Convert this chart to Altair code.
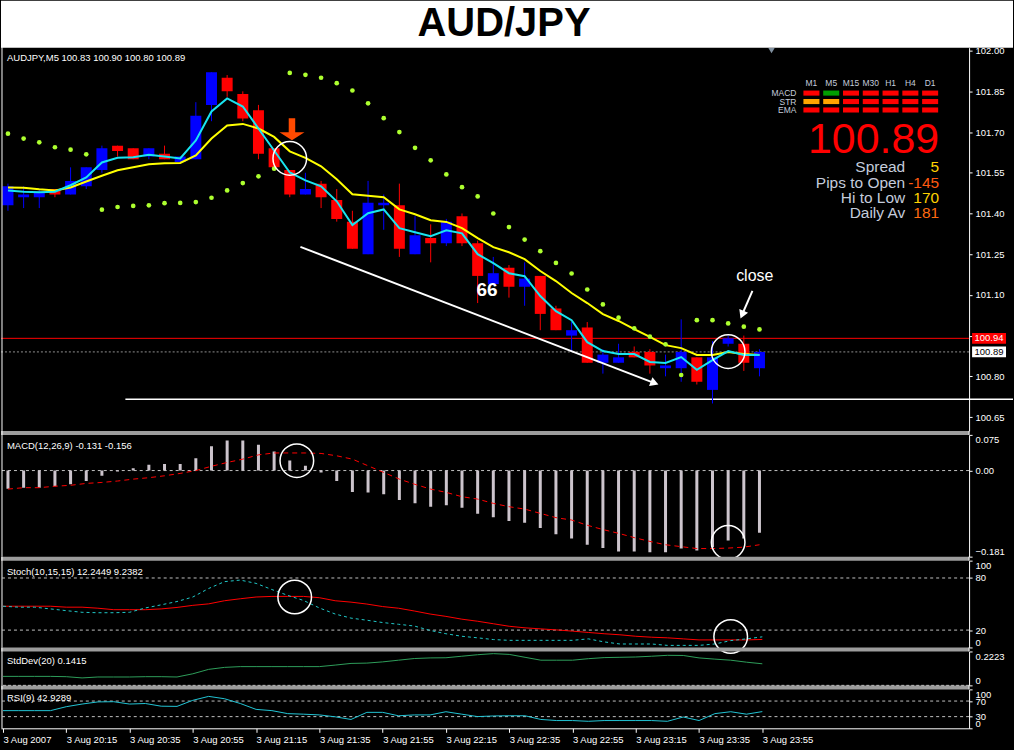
import altair as alt
import pandas as pd

FONT = "Liberation Sans"
TXT = 9.5
BLUE = "#0000FF"
RED = "#FF0000"

# ---- AUD/JPY M5 bars, 3 Aug 2007 19:55 .. 23:55 ----
open_ = [101.43, 101.46, 101.46, 101.49, 101.47, 101.50, 101.56, 101.65, 101.64, 101.61,
         101.62, 101.59, 101.60, 101.80, 101.90, 101.84, 101.78, 101.64, 101.56, 101.47,
         101.51, 101.45, 101.37, 101.25, 101.43, 101.43, 101.25, 101.31, 101.29, 101.39,
         101.29, 101.14, 101.20, 101.13, 101.17, 101.05, 100.95, 100.98, 100.85, 100.85,
         100.89, 100.89, 100.83, 100.83, 100.87, 100.75, 100.92, 100.92, 100.83]
high = [101.51, 101.50, 101.49, 101.49, 101.57, 101.57, 101.65, 101.65, 101.64, 101.64,
        101.65, 101.61, 101.81, 101.92, 101.91, 101.85, 101.80, 101.64, 101.56, 101.55,
        101.52, 101.49, 101.41, 101.52, 101.47, 101.51, 101.39, 101.36, 101.38, 101.40,
        101.30, 101.24, 101.21, 101.22, 101.17, 101.06, 101.00, 101.00, 100.90, 100.92,
        100.91, 100.90, 100.88, 101.01, 100.87, 100.93, 100.95, 100.95, 100.90]
low = [101.41, 101.42, 101.42, 101.46, 101.47, 101.49, 101.55, 101.61, 101.60, 101.60,
       101.60, 101.59, 101.60, 101.74, 101.83, 101.74, 101.60, 101.56, 101.46, 101.47,
       101.42, 101.37, 101.27, 101.25, 101.34, 101.24, 101.25, 101.22, 101.28, 101.28,
       101.07, 101.14, 101.09, 101.06, 100.97, 100.97, 100.89, 100.85, 100.81, 100.85,
       100.87, 100.81, 100.80, 100.78, 100.77, 100.70, 100.91, 100.82, 100.80]
close = [101.50, 101.47, 101.48, 101.47, 101.52, 101.57, 101.64, 101.63, 101.60, 101.64,
         101.60, 101.61, 101.76, 101.92, 101.85, 101.75, 101.62, 101.57, 101.47, 101.49,
         101.46, 101.38, 101.27, 101.44, 101.44, 101.27, 101.32, 101.29, 101.37, 101.29,
         101.17, 101.18, 101.13, 101.16, 101.03, 100.97, 100.97, 100.85, 100.88, 100.87,
         100.87, 100.84, 100.84, 100.89, 100.78, 100.87, 100.94, 100.85, 100.89]

ma_fast = [101.485, 101.480, 101.478, 101.480, 101.504, 101.533, 101.588, 101.605, 101.607, 101.616,
           101.610, 101.603, 101.669, 101.776, 101.824, 101.794, 101.713, 101.632, 101.551, 101.522,
           101.500, 101.445, 101.357, 101.401, 101.415, 101.346, 101.331, 101.316, 101.338, 101.327,
           101.250, 101.217, 101.180, 101.169, 101.096, 101.040, 101.007, 100.926, 100.893, 100.882,
           100.882, 100.853, 100.849, 100.871, 100.824, 100.860, 100.893, 100.879, 100.879]
ma_slow = [101.496, 101.495, 101.489, 101.485, 101.496, 101.518, 101.539, 101.559, 101.570, 101.581,
           101.585, 101.586, 101.614, 101.676, 101.724, 101.730, 101.713, 101.682, 101.629, 101.605,
           101.574, 101.526, 101.471, 101.465, 101.460, 101.415, 101.397, 101.375, 101.369, 101.346,
           101.309, 101.276, 101.257, 101.232, 101.188, 101.151, 101.107, 101.070, 101.029, 101.004,
           100.974, 100.945, 100.915, 100.904, 100.879, 100.879, 100.890, 100.882, 100.879]
psar = [101.694, 101.676, 101.662, 101.644, 101.635, 101.618, 101.414, 101.424, 101.428, 101.430,
        101.438, 101.439, 101.442, 101.458, 101.485, 101.512, 101.537, 101.565, 101.918, 101.911,
        101.900, 101.880, 101.853, 101.806, 101.751, 101.700, 101.642, 101.596, 101.544, 101.497,
        101.463, 101.400, 101.350, 101.304, 101.261, 101.218, 101.179, 101.120, 101.065, 101.016,
        100.977, 100.946, 100.918, 100.805, 101.007, 101.007, 100.995, 100.983, 100.973]

macd_hist = [-0.038, -0.036, -0.036, -0.033, -0.029, -0.022, -0.011, -0.002, 0.005, 0.012,
             0.014, 0.014, 0.026, 0.051, 0.063, 0.063, 0.054, 0.040, 0.021, 0.010,
             -0.004, -0.022, -0.045, -0.046, -0.050, -0.062, -0.069, -0.076, -0.073, -0.078,
             -0.091, -0.098, -0.106, -0.110, -0.121, -0.134, -0.143, -0.156, -0.163, -0.170,
             -0.170, -0.172, -0.172, -0.164, -0.168, -0.161, -0.147, -0.143, -0.131]
macd_signal = [-0.039, -0.036, -0.036, -0.033, -0.031, -0.027, -0.025, -0.022, -0.018, -0.015,
               -0.011, -0.006, 0.000, 0.009, 0.017, 0.024, 0.033, 0.037, 0.037, 0.037,
               0.036, 0.031, 0.024, 0.010, -0.004, -0.018, -0.029, -0.039, -0.046, -0.055,
               -0.060, -0.069, -0.076, -0.081, -0.090, -0.099, -0.104, -0.115, -0.124, -0.132,
               -0.141, -0.149, -0.156, -0.160, -0.164, -0.164, -0.163, -0.161, -0.156]

stoch_k = [47.5, 46.4, 46.4, 44.4, 42.4, 40.5, 40.0, 40.0, 40.5, 45.5,
           49.1, 52.9, 58.1, 67.9, 75.8, 77.6, 73.8, 66.7, 60.0, 54.1,
           45.5, 38.5, 33.8, 31.4, 28.7, 26.7, 24.7, 19.6, 15.8, 12.9,
           11.1, 9.1, 8.2, 8.2, 8.2, 8.2, 8.2, 9.9, 6.4, 4.0,
           4.0, 4.0, 2.4, 2.4, 2.4, 4.0, 7.9, 9.9, 12.2449]
stoch_d = [47.5, 47.5, 47.5, 47.5, 46.4, 46.4, 45.2, 43.5, 43.5, 43.5,
           44.4, 46.1, 48.5, 50.2, 53.8, 56.1, 58.1, 58.8, 58.8, 58.8,
           57.3, 53.8, 52.2, 50.0, 47.1, 45.2, 42.0, 38.5, 35.8, 32.6,
           30.2, 27.3, 24.4, 22.6, 21.4, 20.2, 18.8, 17.3, 15.8, 14.6,
           12.9, 11.8, 11.1, 9.9, 8.7, 8.7, 8.7, 8.7, 9.2382]

std_dev = [0.059, 0.059, 0.059, 0.059, 0.057, 0.049, 0.055, 0.055, 0.055, 0.057,
           0.057, 0.055, 0.076, 0.105, 0.118, 0.123, 0.123, 0.123, 0.123, 0.123,
           0.123, 0.133, 0.144, 0.146, 0.154, 0.165, 0.176, 0.180, 0.181, 0.191,
           0.201, 0.208, 0.203, 0.184, 0.165, 0.165, 0.165, 0.175, 0.182, 0.184,
           0.186, 0.191, 0.197, 0.196, 0.180, 0.172, 0.165, 0.152, 0.1415]

rsi = [45.4, 45.4, 45.4, 45.4, 55.5, 62.3, 67.8, 68.3, 62.3, 63.7,
       56.8, 56.3, 71.9, 82.0, 76.0, 63.7, 48.6, 45.4, 37.7, 36.3,
       34.4, 29.5, 22.7, 41.0, 41.0, 32.2, 34.4, 34.4, 42.6, 36.3,
       30.1, 31.7, 32.2, 32.2, 22.7, 19.9, 19.9, 18.0, 19.9, 19.9,
       19.9, 19.9, 18.0, 29.0, 19.9, 37.7, 42.6, 36.3, 42.9289]

# ---- axes ----
time_ticks = [0, 4, 8, 12, 16, 20, 24, 28, 32, 36, 40, 44, 48]
time_labels = ["3 Aug 2007", "3 Aug 20:15", "3 Aug 20:35", "3 Aug 20:55", "3 Aug 21:15",
               "3 Aug 21:35", "3 Aug 21:55", "3 Aug 22:15", "3 Aug 22:35", "3 Aug 22:55",
               "3 Aug 23:15", "3 Aug 23:35", "3 Aug 23:55"]
price_ticks = [100.65, 100.80, 100.95, 101.10, 101.25, 101.40, 101.55, 101.70, 101.85, 102.00]

ask_price = 100.94
support_price = 100.716

# ---- signal board ----
board_periods = ["M1", "M5", "M15", "M30", "H1", "H4", "D1"]
board_rows = ["MACD", "STR", "EMA"]
board_states = {
    "MACD": ["down", "up", "down", "down", "down", "down", "down"],
    "STR": ["flat", "flat", "down", "down", "down", "down", "down"],
    "EMA": ["down", "down", "down", "down", "down", "down", "down"],
}
board_stats = [("Spread", "5", "#FFD200"), ("Pips to Open", "-145", "#FF5A10"),
               ("Hi to Low", "170", "#FFD200"), ("Daily Av", "181", "#FF6A10")]

# ---- annotations ----
trend_i = [18.68, 41.3]
trend_p = [101.277, 100.775]
close_arrow_i = [47.55, 46.89]
close_arrow_p = [101.115, 101.027]

n = len(close)
bars = pd.DataFrame({
    "i": list(range(n)), "open": open_, "high": high, "low": low, "close": close,
    "ma_fast": ma_fast, "ma_slow": ma_slow, "sar": psar,
    "macd": macd_hist, "signal": macd_signal,
    "k": stoch_k, "d": stoch_d, "sd": std_dev, "rsi": rsi,
})
one = pd.DataFrame({"k": [0]})

W = 970
H_TITLE, H_MAIN, H_MACD, H_STOCH, H_SD, H_RSI = 43, 384, 122, 87, 34, 39

xs = alt.Scale(domain=[-0.126, 61.07], nice=False, zero=False)


def X(field="i", axis=None):
    return alt.X(f"{field}:Q", scale=xs, axis=axis)


def right_axis(**kw):
    opts = dict(orient="right", domainColor="white", tickColor="white", labelColor="white",
                tickSize=3, labelPadding=3, labelFont=FONT, labelFontSize=TXT,
                grid=False, title=None, labelOverlap=False)
    opts.update(kw)
    return alt.Axis(**opts)


def header(text, y):
    return alt.Chart(one).mark_text(align="left", baseline="middle", color="white",
                                    font=FONT, fontSize=TXT).encode(
        x=alt.value(6), y=alt.value(y), text=alt.value(text))


def frame(height):
    sep = alt.Chart(one).mark_rect(color="#9C9C9C").encode(
        x=alt.value(0), x2=alt.value(W), y=alt.value(-4), y2=alt.value(0))
    left = alt.Chart(one).mark_rule(color="white").encode(
        x=alt.value(1), y=alt.value(-4), y2=alt.value(height))
    gap = alt.Chart(one).mark_rule(color="white").encode(
        x=alt.value(W), y=alt.value(-4), y2=alt.value(0))
    return [sep, left, gap]


def rings(df, Y):
    return alt.Chart(df).mark_point(shape="circle", filled=False, color="white",
                                    strokeWidth=1.5, size=1134, opacity=1).encode(
        x=X(), y=Y("v"))


# ---------------- title ----------------
title_panel = alt.layer(
    alt.Chart(one).mark_rect(color="white").encode(
        x=alt.value(0), x2=alt.value(1014), y=alt.value(0), y2=alt.value(47)),
    alt.Chart(one).mark_text(font=FONT, fontSize=40, fontWeight="bold", color="black",
                             align="center", baseline="alphabetic").encode(
        x=alt.value(504), y=alt.value(35), text=alt.value("AUD/JPY")),
).properties(width=1014, height=H_TITLE)

# ---------------- price panel ----------------
main_scale = alt.Scale(domain=[100.599, 102.011], nice=False, zero=False)
main_axis = right_axis(values=price_ticks, format=".2f", labelFlush=False)


def YM(field):
    return alt.Y(f"{field}:Q", scale=main_scale, axis=main_axis)


base = alt.Chart(bars)
bar_color = alt.condition("datum.close >= datum.open", alt.value(BLUE), alt.value(RED))

ask_rule = alt.Chart(pd.DataFrame({"price": [ask_price]})).mark_rule(
    color=RED, strokeWidth=1).encode(y=YM("price"))
bid_rule = alt.Chart(pd.DataFrame({"price": [close[-1]]})).mark_rule(
    color="#909090", strokeWidth=1, strokeDash=[2, 2]).encode(y=YM("price"))
support_rule = alt.Chart(pd.DataFrame({"i": [7.5], "price": [support_price]})).mark_rule(
    color="white", strokeWidth=1.5).encode(x=X(), x2=alt.value(1014), y=YM("price"))

wicks = base.mark_rule(strokeWidth=1, clip=True).encode(
    x=X(), y=YM("low"), y2="high", color=bar_color)
bodies = base.mark_bar(size=11, clip=True).encode(
    x=X(), y=YM("open"), y2="close", color=bar_color)
slow_line = base.mark_line(color="#FFFF00", strokeWidth=2, clip=True).encode(x=X(), y=YM("ma_slow"))
fast_line = base.mark_line(color="#18E4F0", strokeWidth=2, clip=True).encode(x=X(), y=YM("ma_fast"))
sar_dots = base.mark_circle(size=22, color="#ADFF2F", opacity=1, clip=True).encode(x=X(), y=YM("sar"))

trend = alt.Chart(pd.DataFrame({"i": trend_i, "price": trend_p})).mark_line(
    color="white", strokeWidth=2).encode(x=X(), y=YM("price"))
close_arrow = alt.Chart(pd.DataFrame({"i": close_arrow_i, "price": close_arrow_p})).mark_line(
    color="white", strokeWidth=2).encode(x=X(), y=YM("price"))
heads = alt.Chart(pd.DataFrame({"i": [trend_i[1], close_arrow_i[1]],
                                "price": [trend_p[1], close_arrow_p[1]],
                                "angle": [21, 113]})).mark_point(
    shape="triangle-right", filled=True, color="white", size=90, opacity=1).encode(
    x=X(), y=YM("price"), angle=alt.Angle("angle:Q", scale=None))

pips_label = alt.Chart(pd.DataFrame({"i": [30.6], "price": [101.118], "t": ["66"]})).mark_text(
    font=FONT, fontSize=19, fontWeight="bold", color="white", baseline="middle").encode(
    x=X(), y=YM("price"), text="t:N")
close_label = alt.Chart(pd.DataFrame({"i": [47.7], "price": [101.169], "t": ["close"]})).mark_text(
    font=FONT, fontSize=16, color="white", baseline="middle").encode(
    x=X(), y=YM("price"), text="t:N")

main_rings = rings(pd.DataFrame({"i": [18, 46], "v": [101.603, 100.891]}), YM)

DOWN_ARROW = "M-0.26,-0.88L0.26,-0.88L0.26,0.24L1,0.24L0,0.88L-1,0.24L-0.26,0.24Z"
entry_arrow = alt.Chart(pd.DataFrame({"i": [18.14], "price": [101.71]})).mark_point(
    shape=DOWN_ARROW, filled=True, size=625, color="#FF4A00", opacity=1).encode(
    x=X(), y=YM("price"))
shift_mark = alt.Chart(pd.DataFrame({"i": [48.77], "price": [102.0]})).mark_point(
    shape="triangle-down", filled=True, size=40, color="#8090A0", opacity=1).encode(
    x=X(), y=YM("price"))

TAG = "M-1,-0.315L1,-0.315L1,0.315L-1,0.315Z"
tags = pd.DataFrame({"price": [ask_price, close[-1]],
                     "fill": [RED, "#FFFFFF"], "ink": ["#FFFFFF", "#000000"],
                     "label": [f"{ask_price:.2f}", f"{close[-1]:.2f}"]})
tag_box = alt.Chart(tags).mark_point(shape=TAG, filled=True, size=1156, opacity=1).encode(
    x=alt.value(990), y=YM("price"), color=alt.Color("fill:N", scale=None))
tag_text = alt.Chart(tags).mark_text(font=FONT, fontSize=TXT, baseline="middle").encode(
    x=alt.value(990), y=YM("price"), text="label:N", color=alt.Color("ink:N", scale=None))

main_header = header(f"AUDJPY,M5  {open_[-1]:.2f} {high[-1]:.2f} {low[-1]:.2f} {close[-1]:.2f}", 10)

big_price = alt.Chart(one).mark_text(font=FONT, fontSize=43, color=RED, align="right",
                                     baseline="alphabetic").encode(
    x=alt.value(940), y=alt.value(106), text=alt.value(f"{close[-1]:.2f}"))
stat_layers = []
for k, (lab, val, col) in enumerate(board_stats):
    yb = 125 + 15.3 * k
    stat_layers.append(alt.Chart(one).mark_text(font=FONT, fontSize=15.5, color="#C4CCDC",
                                                align="right", baseline="alphabetic").encode(
        x=alt.value(906), y=alt.value(yb), text=alt.value(lab)))
    stat_layers.append(alt.Chart(one).mark_text(font=FONT, fontSize=15.5, color=col,
                                                align="right", baseline="alphabetic").encode(
        x=alt.value(940), y=alt.value(yb), text=alt.value(val)))

price_layers = alt.layer(
    ask_rule, bid_rule, support_rule, wicks, bodies, slow_line, fast_line, sar_dots,
    trend, close_arrow, heads, pips_label, close_label, main_rings, entry_arrow, shift_mark,
    tag_box, tag_text, main_header, big_price, *stat_layers, *frame(H_MAIN)[1:2],
)

board = pd.DataFrame([{"period": p, "row": r, "state": board_states[r][j]}
                      for r in board_rows for j, p in enumerate(board_periods)])
bx = alt.Scale(domain=board_periods, range=[804, 939], paddingInner=0.19, paddingOuter=0)
by = alt.Scale(domain=board_rows, range=[43, 65], paddingInner=0.4, paddingOuter=0)
board_cells = alt.Chart(board).mark_rect().encode(
    x=alt.X("period:N", scale=bx, axis=None),
    y=alt.Y("row:N", scale=by, axis=None),
    color=alt.Color("state:N", scale=alt.Scale(domain=["down", "up", "flat"],
                                               range=[RED, "#00A000", "#FFA500"]), legend=None))
board_cols = alt.Chart(pd.DataFrame({"period": board_periods})).mark_text(
    font=FONT, fontSize=8.5, color="#C4CCDC", baseline="middle").encode(
    x=alt.X("period:N", scale=bx, axis=None), y=alt.value(35), text="period:N")
board_names = alt.Chart(pd.DataFrame({"row": board_rows})).mark_text(
    font=FONT, fontSize=8.5, color="#C4CCDC", align="right", baseline="middle").encode(
    x=alt.value(797), y=alt.Y("row:N", scale=by, axis=None), text="row:N")
board_layer = alt.layer(board_cells, board_cols, board_names)

main_panel = alt.layer(price_layers, board_layer).resolve_scale(
    x="independent", y="independent", color="independent"
).properties(width=W, height=H_MAIN)

# ---------------- MACD ----------------
macd_scale = alt.Scale(domain=[-0.181, 0.075], nice=False, zero=False)
macd_axis = right_axis(values=[-0.181, 0, 0.075], labelFlush=True,
                       labelExpr="datum.value == 0 ? '0.00' : format(datum.value, '.3f')")


def YMA(field):
    return alt.Y(f"{field}:Q", scale=macd_scale, axis=macd_axis)


macd_panel = alt.layer(
    alt.Chart(pd.DataFrame({"lvl": [0]})).mark_rule(color="#C0C0C0", strokeDash=[3, 3]).encode(y=YMA("lvl")),
    base.mark_bar(size=3, color="#CCC4CC", clip=True).encode(x=X(), y=YMA("macd"), y2=alt.datum(0)),
    base.mark_line(color=RED, strokeWidth=1, strokeDash=[5, 4], clip=True).encode(x=X(), y=YMA("signal")),
    rings(pd.DataFrame({"i": [18.45, 46], "v": [0.0207, -0.151]}), YMA),
    header(f"MACD(12,26,9) {macd_hist[-1]:.3f} {macd_signal[-1]:.3f}", 11),
    *frame(H_MACD),
).properties(width=W, height=H_MACD)

# ---------------- Stochastic ----------------
stoch_scale = alt.Scale(domain=[0, 100], nice=False, zero=False)
stoch_axis = right_axis(values=[0, 20, 80, 100], format="d", labelFlush=True)


def YS(field):
    return alt.Y(f"{field}:Q", scale=stoch_scale, axis=stoch_axis)


stoch_panel = alt.layer(
    *frame(H_STOCH),
    alt.Chart(pd.DataFrame({"lvl": [20, 80]})).mark_rule(color="#C0C0C0", strokeDash=[3, 3]).encode(y=YS("lvl")),
    base.mark_line(color=RED, strokeWidth=1, clip=True).encode(x=X(), y=YS("d")),
    base.mark_line(color="#20C8C8", strokeWidth=1, strokeDash=[3, 3], clip=True).encode(x=X(), y=YS("k")),
    rings(pd.DataFrame({"i": [18.44, 46], "v": [58.1, 12.6]}), YS),
    header(f"Stoch(10,15,15) {stoch_k[-1]:.4f} {stoch_d[-1]:.4f}", 11),
).properties(width=W, height=H_STOCH)

# ---------------- StdDev ----------------
sd_scale = alt.Scale(domain=[0, 0.2223], nice=False, zero=False)
sd_axis = right_axis(values=[0, 0.2223], labelFlush=True,
                     labelExpr="datum.value == 0 ? '0' : format(datum.value, '.4f')")


def YD(field):
    return alt.Y(f"{field}:Q", scale=sd_scale, axis=sd_axis)


sd_panel = alt.layer(
    *frame(H_SD),
    alt.Chart(pd.DataFrame({"lvl": [0]})).mark_rule(color="#D8D8D8", strokeDash=[3, 2]).encode(y=YD("lvl")),
    base.mark_line(color="#2E9E5A", strokeWidth=1, clip=True).encode(x=X(), y=YD("sd")),
    header(f"StdDev(20) {std_dev[-1]:.4f}", 10),
).properties(width=W, height=H_SD)

# ---------------- RSI ----------------
rsi_scale = alt.Scale(domain=[0, 100], nice=False, zero=False)
rsi_axis = right_axis(values=[0, 30, 70, 100], format="d", labelFlush=True)
label_list = "[" + ",".join(f"'{t}'" for t in time_labels) + "]"
tick_list = "[" + ",".join(str(t) for t in time_ticks) + "]"
time_axis = alt.Axis(values=time_ticks, orient="bottom", domainColor="white", tickColor="white",
                     labelColor="white", tickSize=4, labelPadding=2, labelFont=FONT,
                     labelFontSize=TXT, labelAlign="left", labelFlush=False, labelOverlap=False,
                     grid=False, title=None,
                     labelExpr=f"{label_list}[indexof({tick_list}, datum.value)]")


def YR(field):
    return alt.Y(f"{field}:Q", scale=rsi_scale, axis=rsi_axis)


rsi_panel = alt.layer(
    *frame(H_RSI),
    alt.Chart(pd.DataFrame({"lvl": [30, 70]})).mark_rule(color="#C0C0C0", strokeDash=[3, 3]).encode(y=YR("lvl")),
    base.mark_line(color="#22C4D4", strokeWidth=1, clip=True).encode(x=X(axis=time_axis), y=YR("rsi")),
    header(f"RSI(9) {rsi[-1]:.4f}", 9),
).properties(width=W, height=H_RSI)

chart = alt.vconcat(
    title_panel, main_panel, macd_panel, stoch_panel, sd_panel, rsi_panel, spacing=4,
    bounds="flush",
).properties(
    background="black",
    padding={"left": 0, "top": 0, "right": 0, "bottom": 5},
).configure_view(strokeWidth=0)

chart.save("out.html", embed_options={"renderer": "svg", "actions": False})
